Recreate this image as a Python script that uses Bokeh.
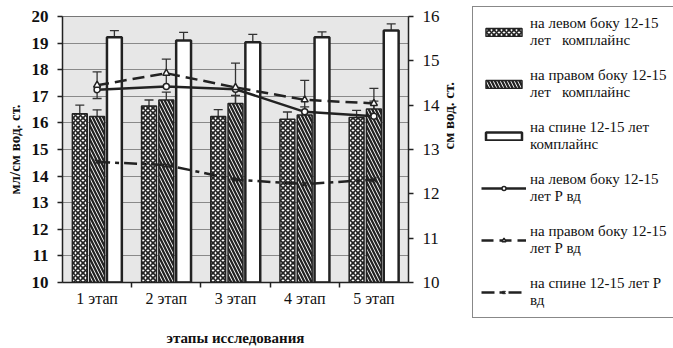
import math
from bokeh.plotting import figure
from bokeh.layouts import row
from bokeh.models import (Range1d, LinearAxis, FixedTicker, Whisker, ColumnDataSource,
                          Legend, LegendItem, TeeHead)
from bokeh.embed import file_html
from bokeh.resources import INLINE

# ---- data ----
stages = ["1 этап", "2 этап", "3 этап", "4 этап", "5 этап"]
left_compl = [16.34, 16.64, 16.24, 16.14, 16.2]
left_compl_err = [0.33, 0.22, 0.26, 0.27, 0.27]
right_compl = [16.24, 16.86, 16.73, 16.3, 16.52]
right_compl_err = [0.25, 0.3, 0.3, 0.3, 0.3]
back_compl = [19.22, 19.1, 19.03, 19.22, 19.47]
back_compl_err = [0.25, 0.3, 0.3, 0.2, 0.25]
left_p = [14.35, 14.42, 14.36, 13.85, 13.75]
right_p = [14.45, 14.72, 14.4, 14.12, 14.04]
right_p_err = [0.3, 0.32, 0.55, 0.44, 0.34]
back_p = [12.72, 12.65, 12.32, 12.22, 12.32]

labels = [
    "на левом боку 12-15\nлет   комплайнс",
    "на правом боку 12-15\nлет   комплайнс",
    "на спине 12-15 лет\nкомплайнс",
    "на левом боку 12-15\nлет Р вд",
    "на правом боку 12-15\nлет Р вд",
    "на спине 12-15 лет Р\nвд",
]

FONT = "Liberation Serif"
INK = "#222222"
xs = list(range(1, len(stages) + 1))
off = 0.25
bw = 0.215

BAR_STYLES = [
    dict(fill_color="white", line_color=INK, line_width=1.5, hatch_pattern="diagonal_cross",
         hatch_color=INK, hatch_scale=5, hatch_weight=1.7),
    dict(fill_color="white", line_color=INK, line_width=1.5, hatch_pattern="left_diagonal_line",
         hatch_color=INK, hatch_scale=7, hatch_weight=2.3),
    dict(fill_color="white", line_color=INK, line_width=2.5),
]
LINE_STYLES = [
    (dict(line_color=INK, line_width=2.5),
     dict(marker="circle", size=6, fill_color="white", line_color=INK, line_width=1.5)),
    (dict(line_color=INK, line_width=2.5, line_dash="12 6"),
     dict(marker="triangle", size=7, fill_color="white", line_color=INK, line_width=1.5)),
    (dict(line_color=INK, line_width=2.5, line_dash="13 5 4 5"),
     dict(marker="x", size=7, line_color=INK, line_width=1.5)),
]

p = figure(width=472, frame_width=346, frame_height=266,
           x_range=Range1d(0.5, 5.5), y_range=Range1d(10, 20),
           output_backend="svg", toolbar_location=None,
           min_border_left=62, min_border_right=64, min_border_top=16, min_border_bottom=64)
p.extra_y_ranges = {"r": Range1d(10, 16)}
p.background_fill_color = "#e7e7e7"
p.border_fill_color = "white"
p.outline_line_color = "#777777"
p.xgrid.grid_line_color = None
p.ygrid.grid_line_color = "#8a8a8a"
p.ygrid.grid_line_width = 1

# bars
def src(vals, errs, dx):
    return ColumnDataSource(dict(x=[x + dx for x in xs], top=vals,
                                 upper=[v + e for v, e in zip(vals, errs)]))

sources = [src(left_compl, left_compl_err, -off),
           src(right_compl, right_compl_err, 0),
           src(back_compl, back_compl_err, off)]
for s, st in zip(sources, BAR_STYLES):
    p.vbar(x="x", top="top", bottom=10, width=bw, source=s, **st)
    p.add_layout(Whisker(source=s, base="x", upper="upper", lower="top",
                         line_color="#333333", line_width=1.3,
                         upper_head=TeeHead(size=9, line_color="#333333", line_width=1.3),
                         lower_head=None))

# lines on right axis
for vals, (ls, ms) in zip([left_p, right_p, back_p], LINE_STYLES):
    p.line(xs, vals, y_range_name="r", **ls)
    p.scatter(xs, vals, y_range_name="r", **ms)

s_rp = ColumnDataSource(dict(x=xs, upper=[v + e for v, e in zip(right_p, right_p_err)],
                             lower=[v - e for v, e in zip(right_p, right_p_err)]))
p.add_layout(Whisker(source=s_rp, base="x", upper="upper", lower="lower", y_range_name="r",
                     line_color="#333333", line_width=1.3,
                     upper_head=TeeHead(size=9, line_color="#333333", line_width=1.3),
                     lower_head=TeeHead(size=9, line_color="#333333", line_width=1.3)))

# axes
p.yaxis.ticker = FixedTicker(ticks=list(range(10, 21)))
p.yaxis.axis_label = "мл/см вод. ст."
p.xaxis.ticker = FixedTicker(ticks=xs, minor_ticks=[1.5, 2.5, 3.5, 4.5])
p.xaxis.major_label_overrides = {x: s for x, s in zip(xs, stages)}
p.xaxis.axis_label = "этапы исследования"
p.xaxis.major_tick_out = 0
p.xaxis.major_tick_in = 0
p.xaxis.minor_tick_out = 5
p.xaxis.minor_tick_in = 0
p.xaxis.minor_tick_line_color = INK
p.xaxis.minor_tick_line_width = 1.5

ra = LinearAxis(y_range_name="r", ticker=FixedTicker(ticks=list(range(10, 17))),
                axis_label="см вод. ст.")
p.add_layout(ra, "right")
try:
    ra.axis_label_orientation = math.pi / 2
except Exception:
    pass

for ax in (p.xaxis[0], p.yaxis[0], ra):
    ax.axis_line_color = INK
    ax.axis_line_width = 1.5
    ax.major_tick_line_color = INK
    ax.major_tick_line_width = 1.5
    ax.axis_label_text_font = FONT
    ax.axis_label_text_font_style = "bold"
    ax.axis_label_text_font_size = "15px"
    ax.axis_label_text_color = "#111111"
    ax.major_label_text_font = FONT
    ax.major_label_text_color = "#111111"
for ax in (p.yaxis[0], ra):
    ax.major_tick_out = 5
    ax.major_tick_in = 0
    ax.minor_tick_line_color = None
    ax.major_label_text_font_size = "17px"
    ax.major_label_standoff = 9
    ax.axis_label_standoff = 6
p.yaxis[0].major_label_text_font_style = "bold"
p.xaxis.major_label_text_font_size = "16px"
p.xaxis.major_label_standoff = 2
p.xaxis.axis_label_standoff = 20
p.xaxis.axis_label_text_font_size = "15px"

# ---- legend panel (same glyph styles, drawn beside the chart) ----
q = figure(width=201, height=346, x_range=Range1d(0, 1), y_range=Range1d(0, 1),
           output_backend="svg", toolbar_location=None, min_border=0,
           x_axis_type=None, y_axis_type=None)
q.outline_line_color = None
q.background_fill_color = "white"
q.border_fill_color = "white"
q.xgrid.grid_line_color = None
q.ygrid.grid_line_color = None
leg_r = []
for st in BAR_STYLES:
    leg_r.append([q.vbar(x=[5], top=[6], bottom=5, width=0.1, **st)])
for ls, ms in LINE_STYLES:
    leg_r.append([q.line(x=[5, 6], y=[5, 5], **ls), q.scatter(x=[5], y=[5], **ms)])

legend = Legend(items=[LegendItem(label=lab, renderers=r) for lab, r in zip(labels, leg_r)],
                location=(0, -38))
legend.label_text_font = FONT
legend.label_text_font_size = "15px"
legend.label_text_color = "#111111"
legend.label_text_line_height = 1.15
legend.glyph_width = 45
legend.glyph_height = 10
legend.label_standoff = 4
legend.spacing = 18
legend.padding = 8
legend.margin = 0
legend.border_line_color = "#111111"
legend.border_line_width = 1.5
legend.background_fill_color = "white"
legend.background_fill_alpha = 1
q.add_layout(legend, "left")

layout = row(p, q, spacing=0)
open("out.html", "w").write(file_html(layout, INLINE))
